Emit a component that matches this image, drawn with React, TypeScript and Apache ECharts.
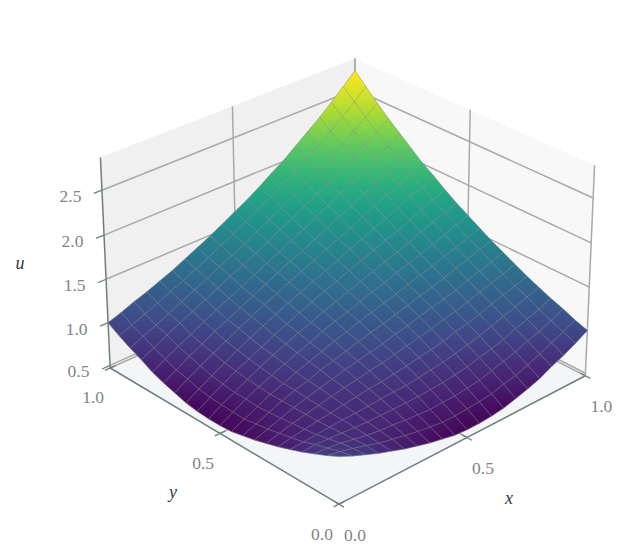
import React, { useRef, useEffect } from 'react'
import * as echarts from 'echarts'

// u on a 21 x 21 grid, x = row / 20, y = column / 20
const surface: number[][] = [
  [1.00,.93,.87,.81,.76,.71,.67,.63,.60,.57,.56,.56,.57,.59,.63,.67,.72,.79,.85,.92,1.00],
  [.93,.90,.86,.82,.77,.74,.71,.68,.66,.64,.64,.65,.66,.68,.72,.75,.80,.86,.92,.98,1.05],
  [.87,.86,.84,.81,.78,.76,.75,.73,.72,.71,.72,.72,.74,.76,.80,.84,.88,.94,.98,1.04,1.11],
  [.81,.82,.81,.80,.79,.78,.78,.78,.78,.78,.79,.80,.82,.84,.88,.91,.95,1.01,1.05,1.10,1.16],
  [.76,.77,.78,.79,.80,.80,.81,.82,.83,.83,.85,.87,.89,.92,.95,.99,1.03,1.08,1.12,1.17,1.22],
  [.71,.74,.76,.78,.80,.82,.84,.86,.87,.89,.91,.94,.96,.99,1.03,1.06,1.10,1.15,1.19,1.23,1.28],
  [.67,.71,.75,.78,.81,.84,.87,.89,.92,.94,.97,1.00,1.03,1.06,1.10,1.13,1.17,1.22,1.26,1.30,1.35],
  [.63,.68,.73,.78,.82,.86,.89,.93,.96,.99,1.02,1.06,1.09,1.13,1.17,1.20,1.24,1.29,1.33,1.37,1.42],
  [.60,.66,.72,.78,.83,.87,.92,.96,1.00,1.04,1.08,1.11,1.15,1.19,1.23,1.27,1.31,1.36,1.40,1.45,1.49],
  [.57,.64,.71,.78,.83,.89,.94,.99,1.04,1.08,1.13,1.17,1.21,1.25,1.30,1.34,1.38,1.43,1.47,1.52,1.57],
  [.56,.64,.72,.79,.85,.91,.97,1.02,1.08,1.13,1.17,1.22,1.27,1.31,1.36,1.41,1.45,1.50,1.55,1.60,1.65],
  [.56,.65,.72,.80,.87,.94,1.00,1.06,1.11,1.17,1.22,1.27,1.32,1.37,1.42,1.47,1.52,1.58,1.63,1.68,1.73],
  [.57,.66,.74,.82,.89,.96,1.03,1.09,1.15,1.21,1.27,1.32,1.38,1.43,1.49,1.54,1.59,1.65,1.71,1.76,1.82],
  [.59,.68,.76,.84,.92,.99,1.06,1.13,1.19,1.25,1.31,1.37,1.43,1.49,1.55,1.61,1.67,1.73,1.79,1.85,1.92],
  [.63,.72,.80,.88,.95,1.03,1.10,1.17,1.23,1.30,1.36,1.42,1.49,1.55,1.61,1.68,1.74,1.81,1.87,1.94,2.01],
  [.67,.75,.84,.91,.99,1.06,1.13,1.20,1.27,1.34,1.41,1.47,1.54,1.61,1.68,1.74,1.82,1.89,1.96,2.04,2.12],
  [.72,.80,.88,.95,1.03,1.10,1.17,1.24,1.31,1.38,1.45,1.52,1.59,1.67,1.74,1.82,1.89,1.97,2.05,2.14,2.23],
  [.79,.86,.94,1.01,1.08,1.15,1.22,1.29,1.36,1.43,1.50,1.58,1.65,1.73,1.81,1.89,1.97,2.06,2.15,2.24,2.34],
  [.85,.92,.98,1.05,1.12,1.19,1.26,1.33,1.40,1.47,1.55,1.63,1.71,1.79,1.87,1.96,2.05,2.15,2.25,2.35,2.46],
  [.92,.98,1.04,1.10,1.17,1.23,1.30,1.37,1.45,1.52,1.60,1.68,1.76,1.85,1.94,2.04,2.14,2.24,2.35,2.47,2.59],
  [1.00,1.05,1.11,1.16,1.22,1.28,1.35,1.42,1.49,1.57,1.65,1.73,1.82,1.92,2.01,2.12,2.23,2.34,2.46,2.59,2.72],
]
const xyTicks = [0, 0.5, 1]
const uTicks = [0.5, 1, 1.5, 2, 2.5]
const uMin = 0.47
const uMax = 2.86
const colorMin = 0.54
const colorMax = 2.66
const viridis = ['#440154', '#482475', '#414487', '#355f8d', '#2a788e', '#21918c', '#22a884', '#44bf70', '#7ad151', '#bddf26', '#fde725']

const N = surface.length - 1
const gridColor = '#a9a9a9'
const axisColor = '#6f7f80'
const labelColor = '#7f8487'
const titleColor = '#2d3b40'
const tickFont = '17.5px "Liberation Serif"'
const titleFont = 'italic 18px "Liberation Serif"'

// camera matrix fitted to the box corners and ticks
const project = (x: number, y: number, u: number): number[] => {
  const w = 0.07984 * x + 0.08126 * y - 0.01725 * u + 1
  return [
    (291.0427 * x - 218.0503 * y - 6.1117 * u + 339.1591) / w,
    (-97.3392 * x - 105.1837 * y - 97.2731 * u + 545.8012) / w,
  ]
}

const hexRgb = (s: string) => [1, 3, 5].map(o => parseInt(s.slice(o, o + 2), 16))
const colorOf = (u: number) => {
  const t = Math.max(0, Math.min(1, (u - colorMin) / (colorMax - colorMin))) * (viridis.length - 1)
  const k = Math.min(viridis.length - 2, Math.floor(t))
  const a = hexRgb(viridis[k])
  const b = hexRgb(viridis[k + 1])
  return `rgb(${a.map((v, q) => Math.round(v + (b[q] - v) * (t - k))).join(',')})`
}

// far corner first so that nearer cells paint over
const cells: number[][] = []
for (let i = N - 1; i >= 0; i--) for (let j = N - 1; j >= 0; j--) cells.push([i, j])
const meshLines: number[][] = []
for (let k = 0; k <= N; k++) { meshLines.push([0, k]); meshLines.push([1, k]) }

const line = (a: number[], b: number[], stroke: string, lineWidth: number) => ({
  type: 'line',
  shape: { x1: a[0], y1: a[1], x2: b[0], y2: b[1] },
  style: { stroke, lineWidth },
})
const label = (p: number[], dx: number, dy: number, text: string, font: string, fill: string) => ({
  type: 'text',
  x: p[0] + dx,
  y: p[1] + dy,
  style: { text, font, fill, align: 'center', verticalAlign: 'middle' },
})

const renderBox = () => {
  const wall = (pts: number[][], fill: string) => ({
    type: 'polygon',
    shape: { points: pts.map(p => project(p[0], p[1], p[2])) },
    style: { fill },
  })
  const seg = (a: number[], b: number[]) => line(project(a[0], a[1], a[2]), project(b[0], b[1], b[2]), gridColor, 1.5)
  const children: any[] = [
    wall([[0, 1, uMin], [1, 1, uMin], [1, 1, uMax], [0, 1, uMax]], '#f0f0f0'),
    wall([[1, 0, uMin], [1, 1, uMin], [1, 1, uMax], [1, 0, uMax]], '#f8f8f8'),
    wall([[0, 0, uMin], [1, 0, uMin], [1, 1, uMin], [0, 1, uMin]], '#f4f5f7'),
  ]
  uTicks.forEach(u => {
    children.push(seg([0, 1, u], [1, 1, u]))
    children.push(seg([1, 0, u], [1, 1, u]))
  })
  xyTicks.slice(1).forEach(t => {
    children.push(seg([t, 1, uMin], [t, 1, uMax]))
    children.push(seg([1, t, uMin], [1, t, uMax]))
    children.push(seg([t, 0, uMin], [t, 1, uMin]))
    children.push(seg([0, t, uMin], [1, t, uMin]))
  })
  children.push(seg([1, 0, uMin], [1, 0, uMax]))
  return { type: 'group', children }
}

const renderCell = (_: any, api: any) => {
  const i = api.value(0)
  const j = api.value(1)
  const corners = [[i, j], [i + 1, j], [i + 1, j + 1], [i, j + 1]]
  const points = corners.map(([a, b]) => project(a / N, b / N, surface[a][b]))
  const values = corners.map(([a, b]) => surface[a][b])
  const lo = values.indexOf(Math.min(...values))
  const hi = values.indexOf(Math.max(...values))
  const mean = (values[0] + values[1] + values[2] + values[3]) / 4
  const fill = new echarts.graphic.LinearGradient(points[lo][0], points[lo][1], points[hi][0], points[hi][1], [
    { offset: 0, color: colorOf(values[lo]) },
    { offset: 1, color: colorOf(values[hi]) },
  ], true)
  return { type: 'polygon', shape: { points }, style: { fill, stroke: colorOf(mean), lineWidth: 0.4 } }
}

const renderMesh = (_: any, api: any) => {
  const kind = api.value(0)
  const k = api.value(1)
  const points = surface.map((_r, m) => (kind === 0 ? project(k / N, m / N, surface[k][m]) : project(m / N, k / N, surface[m][k])))
  return { type: 'polyline', shape: { points }, style: { fill: 'none', stroke: 'rgba(130,130,130,0.55)', lineWidth: 0.8 } }
}

const renderAxes = () => {
  const children: any[] = [
    line(project(0, 0, uMin), project(1, 0, uMin), axisColor, 1.5),
    line(project(0, 0, uMin), project(0, 1, uMin), axisColor, 1.5),
    line(project(0, 1, uMin), project(0, 1, uMax), axisColor, 1.5),
  ]
  xyTicks.forEach(t => {
    const px = project(t, 0, uMin)
    const py = project(0, t, uMin)
    children.push(line(project(t, -0.02, uMin), project(t, 0.02, uMin), axisColor, 1.3))
    children.push(line(project(-0.02, t, uMin), project(0.02, t, uMin), axisColor, 1.3))
    children.push(label(px, 16, 30.5, t.toFixed(1), tickFont, labelColor))
    children.push(label(py, -17, 29.5, t.toFixed(1), tickFont, labelColor))
  })
  uTicks.forEach(u => {
    const p = project(0, 1, u)
    children.push(line(project(-0.03, 1, u), p, axisColor, 1.3))
    children.push(label(p, -31.5, 6, u.toFixed(1), tickFont, labelColor))
  })
  children.push(label(project(0.5, 0, uMin), 42, 61, 'x', titleFont, titleColor))
  children.push(label(project(0, 0.5, uMin), -47, 59, 'y', titleFont, titleColor))
  children.push(label(project(0, 1, 1.5), -86, -16, 'u', titleFont, titleColor))
  return { type: 'group', children }
}

export default function App() {
  const ref = useRef<HTMLDivElement>(null)

  useEffect(() => {
    if (!ref.current) return
    const chart = echarts.init(ref.current, null, { renderer: 'svg' })
    chart.setOption({
      animation: false,
      backgroundColor: '#ffffff',
      series: [
        { type: 'custom', coordinateSystem: 'none', silent: true, data: [0], renderItem: renderBox },
        { type: 'custom', coordinateSystem: 'none', silent: true, data: cells, renderItem: renderCell },
        { type: 'custom', coordinateSystem: 'none', silent: true, data: meshLines, renderItem: renderMesh },
        { type: 'custom', coordinateSystem: 'none', silent: true, data: [0], renderItem: renderAxes },
      ],
    })
    return () => chart.dispose()
  }, [])

  return <div ref={ref} style={{ position: 'absolute', left: 0, top: 0, width: 626, height: 560 }} />
}
